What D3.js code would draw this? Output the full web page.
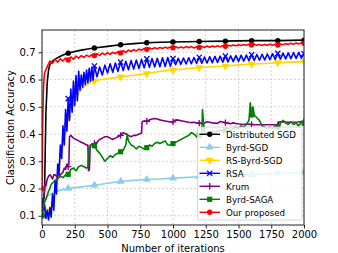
<!DOCTYPE html>
<html>
<head>
<meta charset="utf-8">
<script src="https://cdn.jsdelivr.net/npm/d3@7"></script>
<style>
  body { margin: 0; background: #fff; }
  text { font-family: "DejaVu Sans", sans-serif; fill: #000; }
</style>
</head>
<body>
<div id="d3"></div>
<script>
// Distributed SGD
const sgdIter = [0,10,20,25,30,40,50,60,80,100,130,160,200,250,300,350,400,500,600,700,800,900,1000,1200,1400,1600,1800,2000];
const sgdAcc = [0.10,0.11,0.20,0.35,0.48,0.59,0.635,0.655,0.668,0.675,0.683,0.69,0.697,0.703,0.708,0.712,0.716,0.722,0.728,0.732,0.735,0.737,0.738,0.740,0.741,0.743,0.743,0.745];

// Byrd-SGD
const byrdIter = [0,10,20,30,50,75,100,150,200,300,400,500,600,700,800,900,1000,1200,1400,1600,1800,2000];
const byrdAcc = [0.12,0.13,0.155,0.165,0.175,0.182,0.188,0.195,0.200,0.206,0.212,0.219,0.226,0.230,0.233,0.235,0.238,0.243,0.247,0.251,0.256,0.259];

// RS-Byrd-SGD
const rsIter = [0,25,50,75,100,125,150,175,200,250,300,350,400,450,500,600,700,800,900,1000,1100,1200,1300,1400,1500,1600,1700,1800,1900,2000];
const rsAcc = [0.15,0.13,0.12,0.14,0.20,0.27,0.33,0.40,0.46,0.52,0.565,0.585,0.595,0.600,0.603,0.610,0.616,0.622,0.630,0.635,0.640,0.644,0.647,0.650,0.654,0.657,0.659,0.662,0.664,0.666];

// RSA
const rsaIter = [0,10,20,30,40,50,60,70,80,90,100,110,120,130,140,150,160,170,180,190,200,210,220,230,240,250,260,270,280,290,300,310,320,330,340,350,360,370,380,390,400,
  420,440,460,480,500,520,540,560,580,600,620,640,660,680,700,720,740,760,780,800,820,840,860,880,900,920,940,960,980,1000,
  1020,1040,1060,1080,1100,1120,1140,1160,1180,1200,1220,1240,1260,1280,1300,1320,1340,1360,1380,1400,1420,1440,1460,1480,1500,
  1520,1540,1560,1580,1600,1620,1640,1660,1680,1700,1720,1740,1760,1780,1800,1820,1840,1860,1880,1900,1920,1940,1960,1980,2000];
const rsaAcc = [0.16,0.12,0.14,0.09,0.12,0.085,0.13,0.095,0.18,0.12,0.23,0.18,0.29,0.25,0.36,0.31,0.43,0.36,0.49,0.41,0.53,0.45,0.565,0.48,0.595,0.505,0.615,0.522,0.63,0.561,0.617,0.572,0.627,0.581,0.635,0.588,0.641,0.594,0.646,0.598,0.650,
  0.610,0.646,0.617,0.653,0.624,0.658,0.627,0.661,0.630,0.664,0.633,0.667,0.636,0.670,0.639,0.672,0.641,0.674,0.643,0.676,0.645,0.677,0.646,0.678,0.647,0.680,0.648,0.681,0.649,0.677,
  0.655,0.678,0.656,0.679,0.657,0.680,0.658,0.681,0.659,0.682,0.660,0.683,0.661,0.684,0.662,0.685,0.663,0.686,0.664,0.686,0.665,0.687,0.666,0.688,0.667,
  0.689,0.668,0.690,0.669,0.691,0.670,0.692,0.671,0.693,0.672,0.694,0.673,0.695,0.674,0.696,0.675,0.697,0.676,0.698,0.677,0.699,0.678,0.700,0.679,0.695];

// Krum
const krumIter = [0,10,20,25,30,40,50,60,70,80,90,100,110,120,130,140,150,160,170,180,190,200,205,210,220,240,260,280,300,320,340,350,355,362,368,380,400,420,440,460,480,500,520,540,560,580,600,620,640,660,680,700,720,740,760,765,780,800,820,840,860,880,900,920,940,960,980,1000,
  1020,1040,1060,1080,1100,1120,1140,1160,1180,1200,1220,1240,1260,1280,1300,1320,1340,1360,1380,1400,1420,1440,1460,1480,1500,1520,1540,1560,1580,1600,1650,1700,1750,1800,1810,1850,1900,1950,2000];
const krumAcc = [0.10,0.15,0.20,0.22,0.21,0.235,0.245,0.25,0.245,0.235,0.25,0.25,0.245,0.25,0.245,0.25,0.255,0.26,0.275,0.27,0.29,0.28,0.29,0.39,0.395,0.385,0.38,0.375,0.37,0.365,0.36,0.36,0.265,0.27,0.36,0.36,0.365,0.37,0.38,0.385,0.39,0.39,0.385,0.38,0.385,0.39,0.395,0.405,0.40,0.395,0.39,0.395,0.395,0.40,0.403,0.445,0.448,0.447,0.452,0.455,0.457,0.455,0.452,0.45,0.448,0.446,0.444,0.445,
  0.452,0.451,0.449,0.447,0.445,0.443,0.442,0.443,0.441,0.440,0.439,0.44,0.445,0.443,0.441,0.44,0.439,0.446,0.444,0.442,0.44,0.438,0.441,0.439,0.437,0.436,0.435,0.437,0.436,0.435,0.434,0.434,0.434,0.434,0.445,0.444,0.443,0.444,0.446];

// Byrd-SAGA
const sagaIter = [0,10,20,30,40,50,60,70,80,90,100,120,140,160,180,200,220,240,260,280,300,320,340,350,360,380,400,420,440,460,480,500,520,540,560,580,600,620,640,650,660,680,700,720,740,760,780,800,820,840,860,880,900,920,940,960,980,1000,
  1020,1040,1060,1080,1100,1120,1140,1160,1180,1200,1220,1225,1235,1240,1260,1280,1300,1320,1340,1360,1380,1400,1420,1440,1460,1480,1500,1520,1540,1560,1580,1590,1600,1610,1620,1640,1660,1680,1700,1720,1740,1760,1780,1800,1820,1840,1860,1880,1900,1920,1940,1960,1980,2000];
const sagaAcc = [0.10,0.13,0.15,0.16,0.175,0.19,0.20,0.215,0.22,0.225,0.23,0.235,0.245,0.24,0.25,0.252,0.27,0.275,0.265,0.28,0.285,0.28,0.275,0.28,0.35,0.36,0.357,0.34,0.33,0.315,0.30,0.31,0.32,0.315,0.325,0.33,0.335,0.34,0.36,0.40,0.375,0.36,0.355,0.345,0.355,0.35,0.345,0.35,0.36,0.355,0.365,0.37,0.365,0.37,0.375,0.36,0.36,0.365,
  0.37,0.375,0.38,0.385,0.39,0.395,0.405,0.40,0.39,0.395,0.40,0.49,0.43,0.40,0.405,0.40,0.41,0.405,0.41,0.415,0.41,0.415,0.42,0.415,0.42,0.425,0.42,0.43,0.425,0.435,0.45,0.515,0.47,0.50,0.47,0.46,0.45,0.43,0.425,0.42,0.425,0.42,0.43,0.425,0.44,0.45,0.44,0.435,0.445,0.435,0.44,0.43,0.445,0.44];

// Our proposed
const oursIter = [0,5,10,15,20,40,60,80,100,120,140,160,180,200,220,240,260,280,300,320,340,360,380,400,420,440,460,480,500,520,540,560,580,600,620,640,660,680,700,720,740,760,780,800,820,840,860,880,900,920,940,960,980,1000,
  1020,1040,1060,1080,1100,1120,1140,1160,1180,1200,1220,1240,1260,1280,1300,1320,1340,1360,1380,1400,1420,1440,1460,1480,1500,1520,1540,1560,1580,1600,1620,1640,1660,1680,1700,1720,1740,1760,1780,1800,1820,1840,1860,1880,1900,1920,1940,1960,1980,2000];
const oursAcc = [0.20,0.42,0.55,0.60,0.625,0.648,0.668,0.660,0.674,0.664,0.676,0.668,0.679,0.672,0.683,0.675,0.686,0.679,0.688,0.681,0.690,0.684,0.692,0.688,0.695,0.689,0.697,0.691,0.699,0.693,0.700,0.695,0.703,0.698,0.706,0.700,0.708,0.703,0.710,0.705,0.712,0.708,0.714,0.711,0.716,0.712,0.717,0.713,0.718,0.714,0.719,0.715,0.720,0.717,
  0.721,0.716,0.720,0.716,0.721,0.717,0.721,0.716,0.721,0.718,0.722,0.718,0.723,0.719,0.723,0.720,0.724,0.720,0.725,0.722,0.726,0.723,0.727,0.724,0.728,0.725,0.729,0.726,0.730,0.727,0.730,0.726,0.729,0.725,0.729,0.726,0.730,0.726,0.730,0.727,0.731,0.728,0.732,0.729,0.733,0.730,0.734,0.731,0.735,0.733];

const xTicks = [0,250,500,750,1000,1250,1500,1750,2000];
const yTicks = [0.1,0.2,0.3,0.4,0.5,0.6,0.7];

const series = [
  {name: 'Distributed SGD', iter: sgdIter, acc: sgdAcc, color: 'black', marker: 'circle'},
  {name: 'Byrd-SGD', iter: byrdIter, acc: byrdAcc, color: '#87ceeb', marker: 'triUp'},
  {name: 'RS-Byrd-SGD', iter: rsIter, acc: rsAcc, color: '#ffd700', marker: 'triDown'},
  {name: 'RSA', iter: rsaIter, acc: rsaAcc, color: 'blue', marker: 'x'},
  {name: 'Krum', iter: krumIter, acc: krumAcc, color: 'purple', marker: 'plus'},
  {name: 'Byrd-SAGA', iter: sagaIter, acc: sagaAcc, color: 'green', marker: 'square'},
  {name: 'Our proposed', iter: oursIter, acc: oursAcc, color: 'red', marker: 'circle'}
];

const width = 338, height = 253;
const mLeft = 42, mRight = 304, mTop = 30, mBottom = 225;

const svg = d3.select('#d3').append('svg')
  .attr('width', width)
  .attr('height', height);

const x = d3.scaleLinear().domain([0, 2000]).range([mLeft, mRight]);
const y = d3.scaleLinear().domain([0.066, 0.782]).range([mBottom, mTop]);

// grid
svg.append('g').selectAll('line').data(xTicks).join('line')
  .attr('x1', d => x(d)).attr('x2', d => x(d))
  .attr('y1', mTop).attr('y2', mBottom)
  .attr('stroke', '#c8c8c8').attr('stroke-width', 0.8).attr('stroke-dasharray', '2,2');
svg.append('g').selectAll('line').data(yTicks).join('line')
  .attr('y1', d => y(d)).attr('y2', d => y(d))
  .attr('x1', mLeft).attr('x2', mRight)
  .attr('stroke', '#c8c8c8').attr('stroke-width', 0.8).attr('stroke-dasharray', '2,2');

svg.append('clipPath').attr('id', 'clip')
  .append('rect').attr('x', mLeft).attr('y', mTop).attr('width', mRight - mLeft).attr('height', mBottom - mTop);

function drawMarker(g, type, color) {
  if (type === 'circle') {
    g.append('circle').attr('r', 2.7).attr('fill', color);
  } else if (type === 'triUp') {
    g.append('path').attr('d', d3.symbol(d3.symbolTriangle, 28)()).attr('fill', color);
  } else if (type === 'triDown') {
    g.append('path').attr('d', d3.symbol(d3.symbolTriangle, 28)()).attr('transform', 'rotate(180)').attr('fill', color);
  } else if (type === 'square') {
    g.append('rect').attr('x', -2.6).attr('y', -2.6).attr('width', 5.2).attr('height', 5.2).attr('fill', color);
  } else if (type === 'x') {
    g.append('path').attr('d', 'M-2.6,-2.6L2.6,2.6M-2.6,2.6L2.6,-2.6').attr('stroke', color).attr('stroke-width', 1.3);
  } else if (type === 'plus') {
    g.append('path').attr('d', 'M-3.2,0L3.2,0M0,-3.2L0,3.2').attr('stroke', color).attr('stroke-width', 1.3);
  }
}

const line = d3.line().x(d => x(d[0])).y(d => y(d[1]));
const plot = svg.append('g').attr('clip-path', 'url(#clip)');

series.forEach(s => {
  const pts = s.iter.map((t, i) => [t, s.acc[i]]);
  plot.append('path')
    .attr('d', line(pts))
    .attr('fill', 'none')
    .attr('stroke', s.color)
    .attr('stroke-width', 1.6)
    .attr('stroke-linejoin', 'round');
  pts.filter(p => p[0] % 200 === 0).forEach(p => {
    const g = plot.append('g').attr('transform', `translate(${x(p[0])},${y(p[1])})`);
    drawMarker(g, s.marker, s.color);
  });
});

// axes frame
svg.append('rect')
  .attr('x', mLeft).attr('y', mTop).attr('width', mRight - mLeft).attr('height', mBottom - mTop)
  .attr('fill', 'none').attr('stroke', '#222').attr('stroke-width', 1);

const xAxis = svg.append('g').attr('transform', `translate(0,${mBottom})`)
  .call(d3.axisBottom(x).tickValues(xTicks).tickSize(3.5).tickPadding(2.5).tickFormat(d3.format('d')));
const yAxis = svg.append('g').attr('transform', `translate(${mLeft},0)`)
  .call(d3.axisLeft(y).tickValues(yTicks).tickSize(3.5).tickPadding(3).tickFormat(d3.format('.1f')));
[xAxis, yAxis].forEach(a => {
  a.select('.domain').remove();
  a.selectAll('text').attr('font-size', 10).attr('font-family', 'DejaVu Sans').attr('fill', '#000');
  a.selectAll('line').attr('stroke', '#222');
});

svg.append('text')
  .attr('x', (mLeft + mRight) / 2).attr('y', 251.5)
  .attr('text-anchor', 'middle').attr('font-size', 10)
  .text('Number of iterations');
svg.append('text')
  .attr('transform', `translate(13.5,${(mTop + mBottom) / 2}) rotate(-90)`)
  .attr('text-anchor', 'middle').attr('font-size', 10)
  .text('Classification Accuracy');

// legend
const legend = svg.append('g');
legend.append('rect')
  .attr('x', 197.5).attr('y', 127).attr('width', 104.5).attr('height', 93)
  .attr('rx', 2).attr('fill', 'white').attr('fill-opacity', 0.8)
  .attr('stroke', '#cccccc').attr('stroke-width', 0.8);
series.forEach((s, i) => {
  const cy = 134.3 + i * 13;
  legend.append('line')
    .attr('x1', 199.5).attr('x2', 220).attr('y1', cy).attr('y2', cy)
    .attr('stroke', s.color).attr('stroke-width', 1.4);
  const g = legend.append('g').attr('transform', `translate(209.7,${cy})`);
  drawMarker(g, s.marker, s.color);
  legend.append('text')
    .attr('x', 226).attr('y', cy + 3.2)
    .attr('font-size', 8.7)
    .text(s.name);
});
</script>
</body>
</html>
